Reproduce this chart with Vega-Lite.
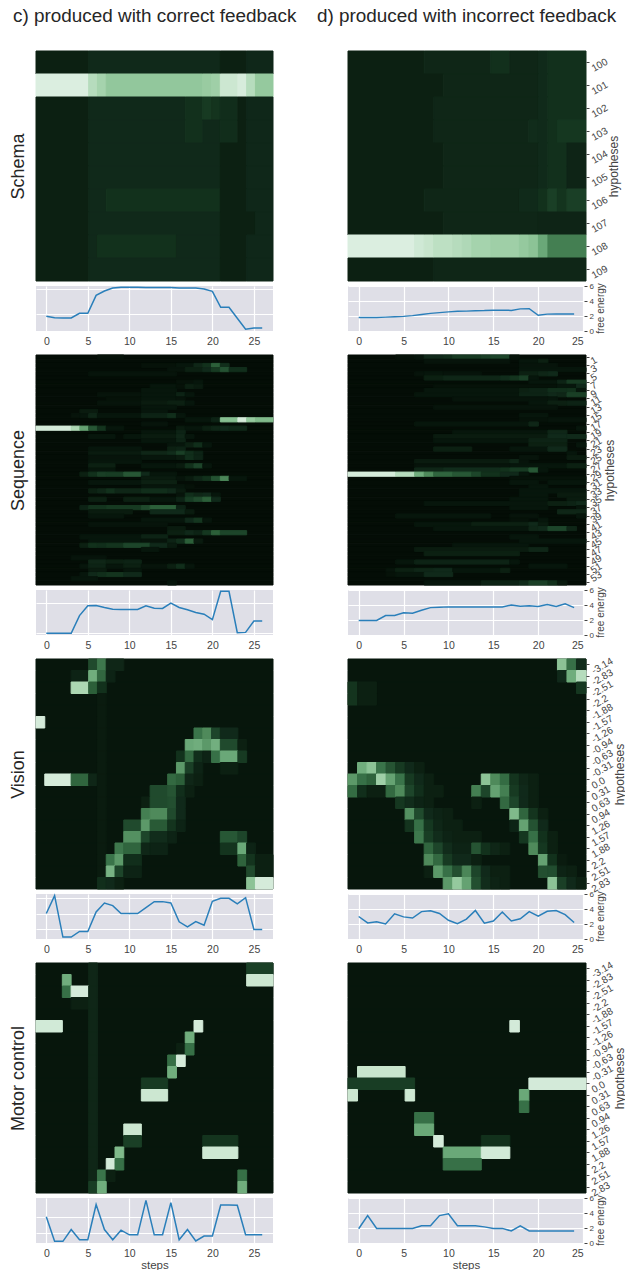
{"$schema":"https://vega.github.io/schema/vega-lite/v6.json","autosize":"pad","bounds":"flush","align":"each","columns":2,"spacing":{"row":5,"column":75},"padding":{"left":9,"top":7,"right":0,"bottom":0},"background":"white",
"config":{"view":{"stroke":null},"font":"Liberation Sans","title":{"font":"Liberation Sans","color":"#262626","fontWeight":"normal"},"axis":{"labelFont":"Liberation Sans","titleFont":"Liberation Sans","labelColor":"#444","titleColor":"#444","tickColor":"#444","titleFontWeight":"normal","domain":false}},
"datasets":{
"bgq":[{"h":0,"v":0},{"h":1,"v":0},{"h":2,"v":0},{"h":3,"v":0},{"h":4,"v":0},{"h":5,"v":0},{"h":6,"v":0},{"h":7,"v":0},{"h":8,"v":0},{"h":9,"v":0},{"h":10,"v":0},{"h":11,"v":0},{"h":12,"v":0},{"h":13,"v":0},{"h":14,"v":0},{"h":15,"v":0},{"h":16,"v":0},{"h":17,"v":0},{"h":18,"v":0},{"h":19,"v":0},{"h":20,"v":0},{"h":21,"v":0},{"h":22,"v":0},{"h":23,"v":0},{"h":24,"v":0},{"h":25,"v":0},{"h":26,"v":0},{"h":27,"v":0},{"h":28,"v":0},{"h":29,"v":0},{"h":30,"v":0},{"h":31,"v":0},{"h":32,"v":0},{"h":33,"v":0},{"h":34,"v":0},{"h":35,"v":0},{"h":36,"v":0},{"h":37,"v":0},{"h":38,"v":0},{"h":39,"v":0},{"h":40,"v":0},{"h":41,"v":0},{"h":42,"v":0},{"h":43,"v":0},{"h":44,"v":0},{"h":45,"v":0},{"h":46,"v":0},{"h":47,"v":0},{"h":48,"v":0},{"h":49,"v":0},{"h":50,"v":0},{"h":51,"v":0},{"h":52,"v":0},{"h":53,"v":0},{"h":54,"v":0}],
"bgv":[{"h":"-3.14","v":0.05},{"h":"-2.83","v":0.05},{"h":"-2.51","v":0.05},{"h":"-2.2","v":0.05},{"h":"-1.88","v":0.05},{"h":"-1.57","v":0.05},{"h":"-1.26","v":0.05},{"h":"-0.94","v":0.05},{"h":"-0.63","v":0.05},{"h":"-0.31","v":0.05},{"h":"0.0","v":0.05},{"h":"0.31","v":0.05},{"h":"0.63","v":0.05},{"h":"0.94","v":0.05},{"h":"1.26","v":0.05},{"h":"1.57","v":0.05},{"h":"1.88","v":0.05},{"h":"2.2","v":0.05},{"h":"2.51","v":0.05},{"h":"2.83","v":0.05}],
"hsc":[{"s":0,"e":6,"h":100,"v":0.07},{"s":6,"e":21,"h":100,"v":0.1},{"s":21,"e":24,"h":100,"v":0.07},{"s":24,"e":27,"h":100,"v":0.095},
{"s":0,"e":6,"h":101,"v":1},{"s":6,"e":7,"h":101,"v":0.85},{"s":7,"e":8,"h":101,"v":0.8},{"s":8,"e":19,"h":101,"v":0.74},{"s":19,"e":20,"h":101,"v":0.76},{"s":20,"e":21,"h":101,"v":0.78},{"s":21,"e":23,"h":101,"v":0.92},{"s":23,"e":24,"h":101,"v":0.98},{"s":24,"e":25,"h":101,"v":0.85},{"s":25,"e":27,"h":101,"v":0.75},
{"s":0,"e":6,"h":102,"v":0.07},{"s":6,"e":17,"h":102,"v":0.1},{"s":17,"e":19,"h":102,"v":0.125},{"s":19,"e":20,"h":102,"v":0.16},{"s":20,"e":21,"h":102,"v":0.14},{"s":21,"e":23,"h":102,"v":0.115},{"s":23,"e":24,"h":102,"v":0.07},{"s":24,"e":27,"h":102,"v":0.095},
{"s":0,"e":6,"h":103,"v":0.07},{"s":6,"e":17,"h":103,"v":0.1},{"s":17,"e":19,"h":103,"v":0.125},{"s":19,"e":21,"h":103,"v":0.1},{"s":21,"e":23,"h":103,"v":0.115},{"s":23,"e":24,"h":103,"v":0.07},{"s":24,"e":27,"h":103,"v":0.095},
{"s":0,"e":6,"h":104,"v":0.07},{"s":6,"e":21,"h":104,"v":0.1},{"s":21,"e":24,"h":104,"v":0.07},{"s":24,"e":27,"h":104,"v":0.095},
{"s":0,"e":6,"h":105,"v":0.07},{"s":6,"e":21,"h":105,"v":0.1},{"s":21,"e":24,"h":105,"v":0.07},{"s":24,"e":27,"h":105,"v":0.095},
{"s":0,"e":6,"h":106,"v":0.07},{"s":6,"e":8,"h":106,"v":0.1},{"s":8,"e":21,"h":106,"v":0.13},{"s":21,"e":24,"h":106,"v":0.07},{"s":24,"e":27,"h":106,"v":0.095},
{"s":0,"e":6,"h":107,"v":0.07},{"s":6,"e":21,"h":107,"v":0.1},{"s":21,"e":25,"h":107,"v":0.07},{"s":25,"e":27,"h":107,"v":0.095},
{"s":0,"e":6,"h":108,"v":0.07},{"s":6,"e":7,"h":108,"v":0.1},{"s":7,"e":16,"h":108,"v":0.13},{"s":16,"e":21,"h":108,"v":0.1},{"s":21,"e":24,"h":108,"v":0.07},{"s":24,"e":27,"h":108,"v":0.095},
{"s":0,"e":6,"h":109,"v":0.07},{"s":6,"e":21,"h":109,"v":0.1},{"s":21,"e":24,"h":109,"v":0.07},{"s":24,"e":27,"h":109,"v":0.095}],
"hsd":[{"s":0,"e":8,"h":100,"v":0.07},{"s":8,"e":15,"h":100,"v":0.09},{"s":15,"e":17,"h":100,"v":0.125},{"s":17,"e":20,"h":100,"v":0.09},{"s":20,"e":21,"h":100,"v":0.105},{"s":21,"e":25,"h":100,"v":0.125},
{"s":0,"e":10,"h":101,"v":0.07},{"s":10,"e":20,"h":101,"v":0.09},{"s":20,"e":21,"h":101,"v":0.105},{"s":21,"e":25,"h":101,"v":0.125},
{"s":0,"e":9,"h":102,"v":0.07},{"s":9,"e":20,"h":102,"v":0.09},{"s":20,"e":21,"h":102,"v":0.105},{"s":21,"e":25,"h":102,"v":0.125},
{"s":0,"e":9,"h":103,"v":0.07},{"s":9,"e":19,"h":103,"v":0.09},{"s":19,"e":20,"h":103,"v":0.11},{"s":20,"e":21,"h":103,"v":0.105},{"s":21,"e":22,"h":103,"v":0.125},{"s":22,"e":25,"h":103,"v":0.15},
{"s":0,"e":10,"h":104,"v":0.07},{"s":10,"e":20,"h":104,"v":0.09},{"s":20,"e":21,"h":104,"v":0.105},{"s":21,"e":23,"h":104,"v":0.125},{"s":23,"e":25,"h":104,"v":0.085},
{"s":0,"e":10,"h":105,"v":0.07},{"s":10,"e":20,"h":105,"v":0.09},{"s":20,"e":21,"h":105,"v":0.105},{"s":21,"e":23,"h":105,"v":0.125},{"s":23,"e":25,"h":105,"v":0.085},
{"s":0,"e":8,"h":106,"v":0.07},{"s":8,"e":18,"h":106,"v":0.09},{"s":18,"e":20,"h":106,"v":0.105},{"s":20,"e":21,"h":106,"v":0.13},{"s":21,"e":22,"h":106,"v":0.18},{"s":22,"e":23,"h":106,"v":0.14},{"s":23,"e":25,"h":106,"v":0.18},
{"s":0,"e":10,"h":107,"v":0.07},{"s":10,"e":20,"h":107,"v":0.09},{"s":20,"e":25,"h":107,"v":0.085},
{"s":0,"e":7,"h":108,"v":1},{"s":7,"e":8,"h":108,"v":0.94},{"s":8,"e":9,"h":108,"v":0.9},{"s":9,"e":11,"h":108,"v":0.87},{"s":11,"e":12,"h":108,"v":0.85},{"s":12,"e":13,"h":108,"v":0.83},{"s":13,"e":15,"h":108,"v":0.8},{"s":15,"e":18,"h":108,"v":0.78},{"s":18,"e":19,"h":108,"v":0.75},{"s":19,"e":20,"h":108,"v":0.72},{"s":20,"e":21,"h":108,"v":0.6},{"s":21,"e":25,"h":108,"v":0.45},
{"s":0,"e":9,"h":109,"v":0.07},{"s":9,"e":25,"h":109,"v":0.09}],
"hqc":[{"s":7,"e":10,"h":0,"v":0.03},
{"s":12,"e":16,"h":2,"v":0.03},{"s":16,"e":18,"h":2,"v":0.05},{"s":18,"e":19,"h":2,"v":0.09},{"s":19,"e":20,"h":2,"v":0.13},{"s":20,"e":21,"h":2,"v":0.3},{"s":21,"e":22,"h":2,"v":0.12},
{"s":15,"e":17,"h":3,"v":0.04},{"s":17,"e":19,"h":3,"v":0.07},{"s":19,"e":20,"h":3,"v":0.1},{"s":20,"e":21,"h":3,"v":0.16},{"s":21,"e":22,"h":3,"v":0.25},{"s":22,"e":24,"h":3,"v":0.12},
{"s":6,"e":16,"h":4,"v":0.04},
{"s":16,"e":18,"h":6,"v":0.03},{"s":18,"e":19,"h":6,"v":0.05},
{"s":13,"e":16,"h":7,"v":0.05},{"s":16,"e":17,"h":7,"v":0.03},{"s":17,"e":18,"h":7,"v":0.07},{"s":18,"e":19,"h":7,"v":0.06},
{"s":12,"e":16,"h":8,"v":0.05},
{"s":7,"e":12,"h":9,"v":0.04},{"s":12,"e":16,"h":9,"v":0.05},{"s":16,"e":17,"h":9,"v":0.08},{"s":17,"e":18,"h":9,"v":0.05},
{"s":8,"e":12,"h":10,"v":0.03},{"s":12,"e":16,"h":10,"v":0.05},{"s":16,"e":17,"h":10,"v":0.04},
{"s":7,"e":12,"h":11,"v":0.04},{"s":12,"e":15,"h":11,"v":0.06},{"s":15,"e":17,"h":11,"v":0.07},{"s":17,"e":18,"h":11,"v":0.05},
{"s":12,"e":16,"h":12,"v":0.05},
{"s":5,"e":7,"h":13,"v":0.06},{"s":12,"e":15,"h":13,"v":0.05},
{"s":4,"e":5,"h":14,"v":0.04},{"s":5,"e":6,"h":14,"v":0.05},{"s":6,"e":7,"h":14,"v":0.09},{"s":7,"e":12,"h":14,"v":0.05},{"s":12,"e":15,"h":14,"v":0.08},{"s":15,"e":16,"h":14,"v":0.12},{"s":16,"e":17,"h":14,"v":0.05},
{"s":17,"e":20,"h":15,"v":0.05},{"s":20,"e":21,"h":15,"v":0.08},{"s":21,"e":23,"h":15,"v":0.7},{"s":23,"e":24,"h":15,"v":0.97},{"s":24,"e":25,"h":15,"v":0.75},{"s":25,"e":27,"h":15,"v":0.68},
{"s":12,"e":15,"h":16,"v":0.04},
{"s":0,"e":4,"h":17,"v":0.97},{"s":4,"e":5,"h":17,"v":0.82},{"s":5,"e":6,"h":17,"v":0.58},{"s":6,"e":7,"h":17,"v":0.27},{"s":7,"e":8,"h":17,"v":0.14},{"s":8,"e":10,"h":17,"v":0.05},{"s":16,"e":17,"h":17,"v":0.06},{"s":17,"e":19,"h":17,"v":0.05},{"s":19,"e":20,"h":17,"v":0.07},{"s":20,"e":21,"h":17,"v":0.09},{"s":21,"e":22,"h":17,"v":0.1},{"s":22,"e":24,"h":17,"v":0.09},
{"s":12,"e":16,"h":18,"v":0.05},{"s":16,"e":17,"h":18,"v":0.08},
{"s":6,"e":9,"h":19,"v":0.05},{"s":10,"e":12,"h":19,"v":0.05},{"s":12,"e":16,"h":19,"v":0.06},{"s":16,"e":17,"h":19,"v":0.09},{"s":17,"e":18,"h":19,"v":0.05},
{"s":12,"e":16,"h":20,"v":0.05},{"s":16,"e":17,"h":20,"v":0.08},
{"s":15,"e":17,"h":21,"v":0.05},{"s":17,"e":18,"h":21,"v":0.07},{"s":18,"e":19,"h":21,"v":0.12},{"s":19,"e":20,"h":21,"v":0.05},
{"s":6,"e":12,"h":22,"v":0.05},{"s":15,"e":16,"h":22,"v":0.07},{"s":16,"e":17,"h":22,"v":0.08},
{"s":6,"e":12,"h":23,"v":0.06},{"s":12,"e":15,"h":23,"v":0.09},{"s":15,"e":16,"h":23,"v":0.11},{"s":16,"e":17,"h":23,"v":0.18},{"s":17,"e":18,"h":23,"v":0.12},{"s":18,"e":19,"h":23,"v":0.08},
{"s":6,"e":12,"h":24,"v":0.04},{"s":12,"e":16,"h":24,"v":0.05},{"s":16,"e":17,"h":24,"v":0.06},{"s":17,"e":18,"h":24,"v":0.12},{"s":18,"e":19,"h":24,"v":0.08},
{"s":6,"e":12,"h":25,"v":0.05},
{"s":6,"e":9,"h":26,"v":0.07},{"s":12,"e":16,"h":26,"v":0.05},{"s":16,"e":17,"h":26,"v":0.06},{"s":17,"e":18,"h":26,"v":0.13},{"s":18,"e":19,"h":26,"v":0.2},{"s":19,"e":20,"h":26,"v":0.05},
{"s":6,"e":9,"h":27,"v":0.05},
{"s":5,"e":6,"h":28,"v":0.07},{"s":6,"e":7,"h":28,"v":0.13},{"s":7,"e":8,"h":28,"v":0.18},{"s":8,"e":10,"h":28,"v":0.17},{"s":10,"e":12,"h":28,"v":0.27},{"s":12,"e":13,"h":28,"v":0.1},{"s":13,"e":16,"h":28,"v":0.05},
{"s":12,"e":16,"h":29,"v":0.06},{"s":16,"e":17,"h":29,"v":0.04},{"s":17,"e":18,"h":29,"v":0.06},{"s":18,"e":19,"h":29,"v":0.09},{"s":19,"e":20,"h":29,"v":0.13},{"s":20,"e":21,"h":29,"v":0.25},{"s":21,"e":22,"h":29,"v":0.48},{"s":22,"e":24,"h":29,"v":0.05},
{"s":6,"e":12,"h":30,"v":0.05},{"s":12,"e":16,"h":30,"v":0.07},
{"s":12,"e":17,"h":31,"v":0.05},{"s":17,"e":18,"h":31,"v":0.03},
{"s":6,"e":7,"h":32,"v":0.07},{"s":7,"e":8,"h":32,"v":0.09},{"s":8,"e":9,"h":32,"v":0.13},{"s":9,"e":12,"h":32,"v":0.09},{"s":12,"e":15,"h":32,"v":0.12},{"s":15,"e":16,"h":32,"v":0.1},{"s":16,"e":17,"h":32,"v":0.06},
{"s":16,"e":17,"h":33,"v":0.04},{"s":17,"e":18,"h":33,"v":0.12},{"s":18,"e":19,"h":33,"v":0.09},{"s":19,"e":20,"h":33,"v":0.1},{"s":20,"e":21,"h":33,"v":0.05},
{"s":6,"e":8,"h":34,"v":0.07},{"s":10,"e":13,"h":34,"v":0.07},{"s":13,"e":16,"h":34,"v":0.05},{"s":16,"e":17,"h":34,"v":0.08},{"s":17,"e":18,"h":34,"v":0.17},{"s":18,"e":19,"h":34,"v":0.22},{"s":19,"e":20,"h":34,"v":0.3},{"s":20,"e":21,"h":34,"v":0.1},
{"s":5,"e":6,"h":36,"v":0.08},{"s":6,"e":8,"h":36,"v":0.14},{"s":8,"e":12,"h":36,"v":0.16},{"s":12,"e":13,"h":36,"v":0.22},{"s":13,"e":16,"h":36,"v":0.3},{"s":16,"e":17,"h":36,"v":0.08},
{"s":6,"e":11,"h":37,"v":0.06},{"s":13,"e":17,"h":37,"v":0.1},{"s":17,"e":18,"h":37,"v":0.06},
{"s":6,"e":10,"h":38,"v":0.05},
{"s":12,"e":17,"h":39,"v":0.05},{"s":17,"e":18,"h":39,"v":0.1},{"s":18,"e":19,"h":39,"v":0.15},{"s":19,"e":20,"h":39,"v":0.05},
{"s":6,"e":15,"h":40,"v":0.04},
{"s":15,"e":17,"h":41,"v":0.06},
{"s":15,"e":17,"h":42,"v":0.07},{"s":17,"e":18,"h":42,"v":0.1},{"s":18,"e":19,"h":42,"v":0.08},{"s":19,"e":20,"h":42,"v":0.15},{"s":20,"e":21,"h":42,"v":0.3},{"s":21,"e":24,"h":42,"v":0.2},
{"s":5,"e":12,"h":43,"v":0.05},{"s":12,"e":15,"h":43,"v":0.08},
{"s":6,"e":12,"h":44,"v":0.05},{"s":12,"e":15,"h":44,"v":0.04},{"s":15,"e":16,"h":44,"v":0.08},{"s":16,"e":17,"h":44,"v":0.12},{"s":17,"e":18,"h":44,"v":0.3},{"s":18,"e":19,"h":44,"v":0.06},
{"s":5,"e":6,"h":45,"v":0.07},{"s":6,"e":7,"h":45,"v":0.13},{"s":7,"e":8,"h":45,"v":0.12},{"s":8,"e":10,"h":45,"v":0.14},{"s":10,"e":13,"h":45,"v":0.2},{"s":13,"e":15,"h":45,"v":0.1},{"s":15,"e":16,"h":45,"v":0.06},
{"s":12,"e":14,"h":46,"v":0.05},
{"s":4,"e":8,"h":48,"v":0.04},
{"s":6,"e":8,"h":49,"v":0.09},{"s":8,"e":10,"h":49,"v":0.07},{"s":10,"e":12,"h":49,"v":0.08},
{"s":5,"e":6,"h":50,"v":0.05},{"s":6,"e":8,"h":50,"v":0.08},{"s":8,"e":10,"h":50,"v":0.05},{"s":10,"e":12,"h":50,"v":0.07},{"s":12,"e":15,"h":50,"v":0.04},{"s":15,"e":16,"h":50,"v":0.07},{"s":16,"e":17,"h":50,"v":0.12},{"s":17,"e":18,"h":50,"v":0.05},
{"s":6,"e":8,"h":51,"v":0.06},{"s":10,"e":12,"h":51,"v":0.05},
{"s":5,"e":6,"h":52,"v":0.05},{"s":6,"e":7,"h":52,"v":0.1},{"s":7,"e":8,"h":52,"v":0.12},{"s":8,"e":10,"h":52,"v":0.14},{"s":10,"e":12,"h":52,"v":0.1},
{"s":4,"e":7,"h":53,"v":0.05},
{"s":15,"e":16,"h":54,"v":0.05}],
"hqd":[{"s":5,"e":7,"h":0,"v":0.03},{"s":7,"e":8,"h":0,"v":0.05},{"s":8,"e":10,"h":0,"v":0.1},{"s":10,"e":11,"h":0,"v":0.12},{"s":11,"e":14,"h":0,"v":0.16},{"s":14,"e":15,"h":0,"v":0.18},{"s":15,"e":17,"h":0,"v":0.2},{"s":17,"e":18,"h":0,"v":0.04},
{"s":8,"e":17,"h":1,"v":0.04},{"s":18,"e":20,"h":1,"v":0.05},{"s":20,"e":21,"h":1,"v":0.07},
{"s":18,"e":22,"h":2,"v":0.04},
{"s":18,"e":25,"h":3,"v":0.05},
{"s":7,"e":8,"h":4,"v":0.04},{"s":8,"e":10,"h":4,"v":0.05},{"s":10,"e":14,"h":4,"v":0.04},{"s":18,"e":20,"h":4,"v":0.07},{"s":20,"e":21,"h":4,"v":0.09},{"s":21,"e":22,"h":4,"v":0.1},
{"s":8,"e":10,"h":5,"v":0.07},{"s":10,"e":16,"h":5,"v":0.09},{"s":16,"e":17,"h":5,"v":0.11},{"s":17,"e":18,"h":5,"v":0.14},{"s":18,"e":19,"h":5,"v":0.18},{"s":19,"e":20,"h":5,"v":0.05},
{"s":19,"e":22,"h":6,"v":0.05},{"s":22,"e":23,"h":6,"v":0.08},{"s":23,"e":25,"h":6,"v":0.16},
{"s":9,"e":22,"h":7,"v":0.03},{"s":22,"e":24,"h":7,"v":0.05},{"s":24,"e":25,"h":7,"v":0.1},
{"s":8,"e":18,"h":8,"v":0.05},{"s":18,"e":19,"h":8,"v":0.07},{"s":19,"e":21,"h":8,"v":0.08},{"s":21,"e":23,"h":8,"v":0.12},{"s":23,"e":24,"h":8,"v":0.13},{"s":24,"e":25,"h":8,"v":0.05},
{"s":7,"e":18,"h":9,"v":0.05},{"s":18,"e":21,"h":9,"v":0.08},{"s":21,"e":22,"h":9,"v":0.1},{"s":22,"e":23,"h":9,"v":0.09},{"s":23,"e":25,"h":9,"v":0.18},
{"s":11,"e":21,"h":10,"v":0.04},{"s":21,"e":22,"h":10,"v":0.05},
{"s":19,"e":21,"h":11,"v":0.05},{"s":21,"e":23,"h":11,"v":0.07},{"s":23,"e":25,"h":11,"v":0.08},
{"s":9,"e":22,"h":12,"v":0.04},
{"s":18,"e":21,"h":14,"v":0.05},
{"s":18,"e":21,"h":15,"v":0.03},{"s":21,"e":25,"h":15,"v":0.04},
{"s":7,"e":19,"h":16,"v":0.05},{"s":19,"e":20,"h":16,"v":0.09},
{"s":24,"e":25,"h":17,"v":0.05},
{"s":11,"e":21,"h":18,"v":0.05},{"s":21,"e":23,"h":18,"v":0.09},
{"s":9,"e":21,"h":19,"v":0.06},{"s":21,"e":23,"h":19,"v":0.1},{"s":23,"e":25,"h":19,"v":0.1},
{"s":9,"e":19,"h":20,"v":0.05},{"s":19,"e":23,"h":20,"v":0.08},
{"s":19,"e":23,"h":21,"v":0.07},{"s":24,"e":25,"h":21,"v":0.05},
{"s":9,"e":13,"h":22,"v":0.07},{"s":17,"e":21,"h":22,"v":0.05},{"s":21,"e":23,"h":22,"v":0.1},
{"s":23,"e":24,"h":23,"v":0.05},
{"s":18,"e":20,"h":24,"v":0.04},{"s":23,"e":25,"h":24,"v":0.06},
{"s":7,"e":17,"h":25,"v":0.06},{"s":17,"e":18,"h":25,"v":0.09},{"s":18,"e":19,"h":25,"v":0.04},
{"s":7,"e":17,"h":26,"v":0.04},{"s":17,"e":23,"h":26,"v":0.05},{"s":23,"e":25,"h":26,"v":0.07},
{"s":7,"e":10,"h":27,"v":0.09},{"s":10,"e":16,"h":27,"v":0.11},{"s":16,"e":17,"h":27,"v":0.13},{"s":17,"e":19,"h":27,"v":0.16},{"s":19,"e":20,"h":27,"v":0.27},{"s":20,"e":21,"h":27,"v":0.05},
{"s":0,"e":5,"h":28,"v":0.97},{"s":5,"e":7,"h":28,"v":0.85},{"s":7,"e":8,"h":28,"v":0.62},{"s":8,"e":9,"h":28,"v":0.5},{"s":9,"e":11,"h":28,"v":0.33},{"s":11,"e":13,"h":28,"v":0.27},{"s":13,"e":14,"h":28,"v":0.2},{"s":14,"e":16,"h":28,"v":0.13},{"s":16,"e":18,"h":28,"v":0.1},{"s":18,"e":19,"h":28,"v":0.05},
{"s":17,"e":25,"h":29,"v":0.03},
{"s":17,"e":20,"h":30,"v":0.05},{"s":21,"e":25,"h":30,"v":0.05},
{"s":19,"e":21,"h":31,"v":0.05},
{"s":18,"e":25,"h":32,"v":0.05},
{"s":18,"e":21,"h":33,"v":0.05},{"s":22,"e":25,"h":33,"v":0.06},
{"s":17,"e":21,"h":34,"v":0.05},{"s":23,"e":25,"h":34,"v":0.06},
{"s":8,"e":21,"h":35,"v":0.05},{"s":21,"e":23,"h":35,"v":0.07},{"s":23,"e":24,"h":35,"v":0.08},{"s":24,"e":25,"h":35,"v":0.1},
{"s":17,"e":21,"h":36,"v":0.05},{"s":24,"e":25,"h":36,"v":0.05},
{"s":22,"e":25,"h":37,"v":0.09},
{"s":5,"e":15,"h":38,"v":0.05},{"s":17,"e":20,"h":38,"v":0.04},{"s":24,"e":25,"h":38,"v":0.05},
{"s":17,"e":19,"h":39,"v":0.03},{"s":20,"e":21,"h":39,"v":0.05},
{"s":7,"e":13,"h":40,"v":0.05},{"s":13,"e":19,"h":40,"v":0.07},{"s":19,"e":20,"h":40,"v":0.1},{"s":20,"e":21,"h":40,"v":0.06},
{"s":9,"e":19,"h":41,"v":0.05},{"s":19,"e":20,"h":41,"v":0.09},{"s":20,"e":21,"h":41,"v":0.1},{"s":21,"e":23,"h":41,"v":0.2},{"s":23,"e":24,"h":41,"v":0.09},
{"s":17,"e":20,"h":43,"v":0.05},
{"s":18,"e":25,"h":44,"v":0.05},
{"s":11,"e":19,"h":45,"v":0.05},
{"s":7,"e":19,"h":46,"v":0.06},{"s":19,"e":21,"h":46,"v":0.09},
{"s":8,"e":18,"h":47,"v":0.07},
{"s":5,"e":7,"h":49,"v":0.05},{"s":7,"e":17,"h":49,"v":0.08},{"s":17,"e":18,"h":49,"v":0.05},
{"s":19,"e":23,"h":50,"v":0.05},
{"s":4,"e":5,"h":51,"v":0.04},{"s":5,"e":7,"h":51,"v":0.07},{"s":7,"e":9,"h":51,"v":0.09},{"s":9,"e":11,"h":51,"v":0.1},{"s":11,"e":16,"h":51,"v":0.05},{"s":16,"e":17,"h":51,"v":0.07},
{"s":4,"e":5,"h":52,"v":0.03},{"s":5,"e":8,"h":52,"v":0.05},{"s":8,"e":11,"h":52,"v":0.1},
{"s":8,"e":14,"h":54,"v":0.05},{"s":14,"e":18,"h":54,"v":0.08},{"s":18,"e":19,"h":54,"v":0.11},{"s":19,"e":21,"h":54,"v":0.18},{"s":21,"e":22,"h":54,"v":0.13},{"s":22,"e":23,"h":54,"v":0.06}],
"hvc":[{"s":6,"e":7,"h":"-3.14","v":0.22},{"s":7,"e":8,"h":"-3.14","v":0.42},{"s":8,"e":10,"h":"-3.14","v":0.09},
{"s":4,"e":6,"h":"-2.83","v":0.08},{"s":6,"e":7,"h":"-2.83","v":0.62},{"s":7,"e":8,"h":"-2.83","v":0.34},{"s":8,"e":9,"h":"-2.83","v":0.08},
{"s":4,"e":6,"h":"-2.51","v":0.82},{"s":6,"e":7,"h":"-2.51","v":0.3},{"s":7,"e":8,"h":"-2.51","v":0.13},
{"s":7,"e":8,"h":"-2.2","v":0.06},{"s":7,"e":8,"h":"-1.88","v":0.06},{"s":7,"e":8,"h":"-1.57","v":0.06},
{"s":0,"e":1,"h":"-1.57","v":0.97},
{"s":7,"e":8,"h":"-1.26","v":0.06},{"s":18,"e":19,"h":"-1.26","v":0.4},{"s":19,"e":20,"h":"-1.26","v":0.5},{"s":20,"e":21,"h":"-1.26","v":0.2},{"s":21,"e":23,"h":"-1.26","v":0.1},
{"s":7,"e":8,"h":"-0.94","v":0.06},{"s":17,"e":18,"h":"-0.94","v":0.6},{"s":18,"e":19,"h":"-0.94","v":0.62},{"s":19,"e":20,"h":"-0.94","v":0.55},{"s":20,"e":21,"h":"-0.94","v":0.63},{"s":21,"e":23,"h":"-0.94","v":0.22},{"s":23,"e":24,"h":"-0.94","v":0.07},
{"s":7,"e":8,"h":"-0.63","v":0.06},{"s":16,"e":17,"h":"-0.63","v":0.13},{"s":17,"e":18,"h":"-0.63","v":0.35},{"s":18,"e":19,"h":"-0.63","v":0.12},{"s":19,"e":20,"h":"-0.63","v":0.08},{"s":20,"e":21,"h":"-0.63","v":0.38},{"s":21,"e":23,"h":"-0.63","v":0.6},{"s":23,"e":24,"h":"-0.63","v":0.16},
{"s":7,"e":8,"h":"-0.31","v":0.06},{"s":16,"e":17,"h":"-0.31","v":0.55},{"s":17,"e":18,"h":"-0.31","v":0.18},{"s":18,"e":19,"h":"-0.31","v":0.08},{"s":21,"e":23,"h":"-0.31","v":0.07},
{"s":1,"e":4,"h":"0.0","v":0.97},{"s":4,"e":6,"h":"0.0","v":0.33},{"s":6,"e":7,"h":"0.0","v":0.09},{"s":7,"e":8,"h":"0.0","v":0.06},{"s":15,"e":16,"h":"0.0","v":0.35},{"s":16,"e":17,"h":"0.0","v":0.3},{"s":17,"e":18,"h":"0.0","v":0.09},{"s":18,"e":19,"h":"0.0","v":0.07},
{"s":7,"e":8,"h":"0.31","v":0.06},{"s":13,"e":15,"h":"0.31","v":0.22},{"s":15,"e":16,"h":"0.31","v":0.26},{"s":16,"e":17,"h":"0.31","v":0.12},{"s":17,"e":18,"h":"0.31","v":0.07},
{"s":7,"e":8,"h":"0.63","v":0.06},{"s":12,"e":13,"h":"0.63","v":0.07},{"s":13,"e":15,"h":"0.63","v":0.22},{"s":15,"e":16,"h":"0.63","v":0.24},{"s":16,"e":17,"h":"0.63","v":0.1},
{"s":7,"e":8,"h":"0.94","v":0.06},{"s":12,"e":13,"h":"0.94","v":0.45},{"s":13,"e":15,"h":"0.94","v":0.5},{"s":15,"e":16,"h":"0.94","v":0.22},{"s":16,"e":17,"h":"0.94","v":0.1},
{"s":7,"e":8,"h":"1.26","v":0.06},{"s":10,"e":12,"h":"1.26","v":0.22},{"s":12,"e":13,"h":"1.26","v":0.55},{"s":13,"e":15,"h":"1.26","v":0.28},{"s":15,"e":16,"h":"1.26","v":0.14},{"s":16,"e":17,"h":"1.26","v":0.08},
{"s":7,"e":8,"h":"1.57","v":0.06},{"s":10,"e":12,"h":"1.57","v":0.52},{"s":12,"e":13,"h":"1.57","v":0.2},{"s":13,"e":15,"h":"1.57","v":0.11},{"s":15,"e":16,"h":"1.57","v":0.08},{"s":21,"e":23,"h":"1.57","v":0.27},{"s":23,"e":24,"h":"1.57","v":0.2},
{"s":7,"e":8,"h":"1.88","v":0.06},{"s":9,"e":10,"h":"1.88","v":0.42},{"s":10,"e":12,"h":"1.88","v":0.33},{"s":12,"e":13,"h":"1.88","v":0.09},{"s":13,"e":15,"h":"1.88","v":0.08},{"s":21,"e":23,"h":"1.88","v":0.14},{"s":23,"e":24,"h":"1.88","v":0.6},{"s":24,"e":25,"h":"1.88","v":0.08},
{"s":7,"e":8,"h":"2.2","v":0.06},{"s":8,"e":9,"h":"2.2","v":0.4},{"s":9,"e":10,"h":"2.2","v":0.55},{"s":10,"e":12,"h":"2.2","v":0.12},{"s":23,"e":24,"h":"2.2","v":0.32},{"s":24,"e":25,"h":"2.2","v":0.14},{"s":25,"e":27,"h":"2.2","v":0.07},
{"s":7,"e":8,"h":"2.51","v":0.06},{"s":8,"e":9,"h":"2.51","v":0.65},{"s":9,"e":10,"h":"2.51","v":0.2},{"s":10,"e":12,"h":"2.51","v":0.08},{"s":24,"e":25,"h":"2.51","v":0.22},{"s":25,"e":27,"h":"2.51","v":0.07},
{"s":7,"e":8,"h":"2.83","v":0.12},{"s":8,"e":9,"h":"2.83","v":0.1},{"s":9,"e":10,"h":"2.83","v":0.07},{"s":24,"e":25,"h":"2.83","v":0.72},{"s":25,"e":27,"h":"2.83","v":0.97}],
"hvd":[{"s":22,"e":23,"h":"-3.14","v":0.72},{"s":23,"e":24,"h":"-3.14","v":0.38},{"s":24,"e":25,"h":"-3.14","v":0.11},
{"s":22,"e":23,"h":"-2.83","v":0.1},{"s":23,"e":24,"h":"-2.83","v":0.62},{"s":24,"e":25,"h":"-2.83","v":0.85},
{"s":0,"e":1,"h":"-2.51","v":0.14},{"s":1,"e":3,"h":"-2.51","v":0.07},{"s":24,"e":25,"h":"-2.51","v":0.15},
{"s":0,"e":1,"h":"-2.2","v":0.14},{"s":1,"e":3,"h":"-2.2","v":0.07},
{"s":1,"e":2,"h":"-0.31","v":0.62},{"s":2,"e":3,"h":"-0.31","v":0.72},{"s":3,"e":4,"h":"-0.31","v":0.4},{"s":4,"e":5,"h":"-0.31","v":0.26},{"s":5,"e":6,"h":"-0.31","v":0.16},{"s":6,"e":7,"h":"-0.31","v":0.1},{"s":7,"e":8,"h":"-0.31","v":0.07},
{"s":0,"e":1,"h":"0.0","v":0.55},{"s":1,"e":2,"h":"0.0","v":0.38},{"s":2,"e":3,"h":"0.0","v":0.32},{"s":3,"e":4,"h":"0.0","v":0.78},{"s":4,"e":5,"h":"0.0","v":0.58},{"s":5,"e":6,"h":"0.0","v":0.4},{"s":6,"e":7,"h":"0.0","v":0.16},{"s":7,"e":8,"h":"0.0","v":0.1},{"s":8,"e":9,"h":"0.0","v":0.07},{"s":14,"e":15,"h":"0.0","v":0.72},{"s":15,"e":16,"h":"0.0","v":0.5},{"s":16,"e":17,"h":"0.0","v":0.36},{"s":17,"e":18,"h":"0.0","v":0.14},{"s":18,"e":19,"h":"0.0","v":0.09},{"s":19,"e":20,"h":"0.0","v":0.07},
{"s":0,"e":1,"h":"0.31","v":0.36},{"s":1,"e":2,"h":"0.31","v":0.12},{"s":2,"e":4,"h":"0.31","v":0.07},{"s":4,"e":5,"h":"0.31","v":0.35},{"s":5,"e":6,"h":"0.31","v":0.5},{"s":6,"e":7,"h":"0.31","v":0.2},{"s":7,"e":8,"h":"0.31","v":0.12},{"s":8,"e":10,"h":"0.31","v":0.07},{"s":13,"e":14,"h":"0.31","v":0.45},{"s":14,"e":15,"h":"0.31","v":0.2},{"s":15,"e":16,"h":"0.31","v":0.58},{"s":16,"e":17,"h":"0.31","v":0.45},{"s":17,"e":18,"h":"0.31","v":0.16},{"s":18,"e":19,"h":"0.31","v":0.1},{"s":19,"e":20,"h":"0.31","v":0.07},
{"s":5,"e":6,"h":"0.63","v":0.15},{"s":6,"e":7,"h":"0.63","v":0.11},{"s":7,"e":8,"h":"0.63","v":0.08},{"s":8,"e":9,"h":"0.63","v":0.07},{"s":13,"e":14,"h":"0.63","v":0.07},{"s":16,"e":17,"h":"0.63","v":0.35},{"s":17,"e":18,"h":"0.63","v":0.2},{"s":18,"e":19,"h":"0.63","v":0.1},{"s":19,"e":20,"h":"0.63","v":0.07},
{"s":6,"e":7,"h":"0.94","v":0.52},{"s":7,"e":8,"h":"0.94","v":0.22},{"s":8,"e":9,"h":"0.94","v":0.1},{"s":9,"e":10,"h":"0.94","v":0.08},{"s":10,"e":11,"h":"0.94","v":0.07},{"s":17,"e":18,"h":"0.94","v":0.68},{"s":18,"e":19,"h":"0.94","v":0.33},{"s":19,"e":20,"h":"0.94","v":0.14},{"s":20,"e":21,"h":"0.94","v":0.07},
{"s":6,"e":7,"h":"1.26","v":0.14},{"s":7,"e":8,"h":"1.26","v":0.38},{"s":8,"e":9,"h":"1.26","v":0.15},{"s":9,"e":10,"h":"1.26","v":0.09},{"s":10,"e":12,"h":"1.26","v":0.07},{"s":17,"e":18,"h":"1.26","v":0.08},{"s":18,"e":19,"h":"1.26","v":0.58},{"s":19,"e":20,"h":"1.26","v":0.25},{"s":20,"e":21,"h":"1.26","v":0.1},
{"s":7,"e":8,"h":"1.57","v":0.42},{"s":8,"e":9,"h":"1.57","v":0.17},{"s":9,"e":10,"h":"1.57","v":0.11},{"s":10,"e":11,"h":"1.57","v":0.08},{"s":11,"e":14,"h":"1.57","v":0.07},{"s":18,"e":19,"h":"1.57","v":0.15},{"s":19,"e":20,"h":"1.57","v":0.38},{"s":20,"e":21,"h":"1.57","v":0.13},{"s":21,"e":22,"h":"1.57","v":0.07},
{"s":8,"e":9,"h":"1.88","v":0.33},{"s":9,"e":10,"h":"1.88","v":0.2},{"s":10,"e":11,"h":"1.88","v":0.11},{"s":11,"e":13,"h":"1.88","v":0.08},{"s":13,"e":14,"h":"1.88","v":0.26},{"s":14,"e":15,"h":"1.88","v":0.13},{"s":15,"e":16,"h":"1.88","v":0.09},{"s":16,"e":17,"h":"1.88","v":0.07},{"s":19,"e":20,"h":"1.88","v":0.5},{"s":20,"e":21,"h":"1.88","v":0.15},{"s":21,"e":22,"h":"1.88","v":0.07},
{"s":8,"e":9,"h":"2.2","v":0.5},{"s":9,"e":10,"h":"2.2","v":0.35},{"s":10,"e":11,"h":"2.2","v":0.16},{"s":11,"e":13,"h":"2.2","v":0.1},{"s":13,"e":14,"h":"2.2","v":0.07},{"s":20,"e":21,"h":"2.2","v":0.58},{"s":21,"e":22,"h":"2.2","v":0.13},{"s":22,"e":23,"h":"2.2","v":0.06},
{"s":8,"e":9,"h":"2.51","v":0.07},{"s":9,"e":10,"h":"2.51","v":0.55},{"s":10,"e":11,"h":"2.51","v":0.38},{"s":11,"e":12,"h":"2.51","v":0.24},{"s":12,"e":13,"h":"2.51","v":0.48},{"s":13,"e":14,"h":"2.51","v":0.2},{"s":14,"e":15,"h":"2.51","v":0.1},{"s":15,"e":17,"h":"2.51","v":0.07},{"s":20,"e":21,"h":"2.51","v":0.24},{"s":21,"e":22,"h":"2.51","v":0.23},{"s":22,"e":23,"h":"2.51","v":0.08},{"s":23,"e":24,"h":"2.51","v":0.07},
{"s":10,"e":11,"h":"2.83","v":0.55},{"s":11,"e":12,"h":"2.83","v":0.75},{"s":12,"e":13,"h":"2.83","v":0.58},{"s":13,"e":14,"h":"2.83","v":0.24},{"s":14,"e":15,"h":"2.83","v":0.11},{"s":15,"e":16,"h":"2.83","v":0.08},{"s":16,"e":17,"h":"2.83","v":0.07},{"s":21,"e":22,"h":"2.83","v":0.72},{"s":22,"e":23,"h":"2.83","v":0.18},{"s":23,"e":24,"h":"2.83","v":0.1},{"s":24,"e":25,"h":"2.83","v":0.07}],
"hmc":[{"s":6,"e":7,"h":"-3.14","v":0.09},{"s":24,"e":27,"h":"-3.14","v":0.18},
{"s":3,"e":4,"h":"-2.83","v":0.62},{"s":6,"e":7,"h":"-2.83","v":0.09},{"s":24,"e":27,"h":"-2.83","v":0.92},
{"s":3,"e":4,"h":"-2.51","v":0.38},{"s":4,"e":6,"h":"-2.51","v":0.97},{"s":6,"e":7,"h":"-2.51","v":0.09},
{"s":4,"e":6,"h":"-2.2","v":0.07},{"s":6,"e":7,"h":"-2.2","v":0.09},{"s":6,"e":7,"h":"-1.88","v":0.09},
{"s":0,"e":3,"h":"-1.57","v":0.95},{"s":6,"e":7,"h":"-1.57","v":0.09},{"s":18,"e":19,"h":"-1.57","v":0.97},
{"s":6,"e":7,"h":"-1.26","v":0.09},{"s":17,"e":18,"h":"-1.26","v":0.62},
{"s":6,"e":7,"h":"-0.94","v":0.09},{"s":16,"e":17,"h":"-0.94","v":0.07},{"s":17,"e":18,"h":"-0.94","v":0.38},
{"s":6,"e":7,"h":"-0.63","v":0.09},{"s":15,"e":16,"h":"-0.63","v":0.37},{"s":16,"e":17,"h":"-0.63","v":0.97},
{"s":6,"e":7,"h":"-0.31","v":0.09},{"s":15,"e":16,"h":"-0.31","v":0.62},
{"s":6,"e":7,"h":"0.0","v":0.09},{"s":12,"e":15,"h":"0.0","v":0.16},
{"s":6,"e":7,"h":"0.31","v":0.09},{"s":12,"e":15,"h":"0.31","v":0.92},
{"s":6,"e":7,"h":"0.63","v":0.09},{"s":6,"e":7,"h":"0.94","v":0.09},
{"s":6,"e":7,"h":"1.26","v":0.09},{"s":10,"e":12,"h":"1.26","v":0.92},
{"s":6,"e":7,"h":"1.57","v":0.09},{"s":10,"e":12,"h":"1.57","v":0.18},{"s":19,"e":23,"h":"1.57","v":0.14},
{"s":6,"e":7,"h":"1.88","v":0.09},{"s":9,"e":10,"h":"1.88","v":0.68},{"s":19,"e":23,"h":"1.88","v":0.93},
{"s":6,"e":7,"h":"2.2","v":0.09},{"s":8,"e":9,"h":"2.2","v":0.96},{"s":9,"e":10,"h":"2.2","v":0.38},
{"s":6,"e":7,"h":"2.51","v":0.09},{"s":7,"e":8,"h":"2.51","v":0.4},{"s":8,"e":9,"h":"2.51","v":0.07},{"s":23,"e":24,"h":"2.51","v":0.38},
{"s":6,"e":7,"h":"2.83","v":0.17},{"s":7,"e":8,"h":"2.83","v":0.62},{"s":23,"e":24,"h":"2.83","v":0.62}],
"hmd":[{"s":17,"e":18,"h":"-1.57","v":0.96},{"s":1,"e":6,"h":"-0.31","v":0.9},{"s":0,"e":7,"h":"0.0","v":0.17},{"s":19,"e":25,"h":"0.0","v":0.96},{"s":0,"e":1,"h":"0.31","v":0.92},{"s":6,"e":7,"h":"0.31","v":0.93},{"s":18,"e":19,"h":"0.31","v":0.6},{"s":18,"e":19,"h":"0.63","v":0.38},{"s":7,"e":9,"h":"0.94","v":0.38},{"s":7,"e":9,"h":"1.26","v":0.6},{"s":9,"e":10,"h":"1.57","v":0.97},{"s":14,"e":17,"h":"1.57","v":0.13},{"s":10,"e":14,"h":"1.88","v":0.6},{"s":14,"e":17,"h":"1.88","v":0.95},{"s":10,"e":14,"h":"2.2","v":0.38}],
"lsc":[{"t":0,"f":1.81},{"t":1,"f":1.7},{"t":2,"f":1.68},{"t":3,"f":1.68},{"t":4,"f":2.05},{"t":5,"f":2.05},{"t":6,"f":3.51},{"t":7,"f":3.86},{"t":8,"f":4.11},{"t":9,"f":4.16},{"t":10,"f":4.16},{"t":11,"f":4.16},{"t":12,"f":4.14},{"t":13,"f":4.14},{"t":14,"f":4.14},{"t":15,"f":4.14},{"t":16,"f":4.11},{"t":17,"f":4.11},{"t":18,"f":4.11},{"t":19,"f":4.03},{"t":20,"f":3.84},{"t":21,"f":2.54},{"t":22,"f":2.54},{"t":23,"f":1.65},{"t":24,"f":0.76},{"t":25,"f":0.86},{"t":26,"f":0.86}],
"lsd":[{"t":0,"f":1.8},{"t":1,"f":1.8},{"t":2,"f":1.8},{"t":3,"f":1.85},{"t":4,"f":1.9},{"t":5,"f":1.95},{"t":6,"f":2.05},{"t":7,"f":2.2},{"t":8,"f":2.35},{"t":9,"f":2.45},{"t":10,"f":2.55},{"t":11,"f":2.62},{"t":12,"f":2.65},{"t":13,"f":2.7},{"t":14,"f":2.72},{"t":15,"f":2.78},{"t":16,"f":2.78},{"t":17,"f":2.75},{"t":18,"f":2.95},{"t":19,"f":2.98},{"t":20,"f":2.1},{"t":21,"f":2.25},{"t":22,"f":2.28},{"t":23,"f":2.28},{"t":24,"f":2.28}],
"lqc":[{"t":0,"f":0},{"t":1,"f":0},{"t":2,"f":0},{"t":3,"f":0},{"t":4,"f":2.38},{"t":5,"f":3.69},{"t":6,"f":3.73},{"t":7,"f":3.46},{"t":8,"f":3.24},{"t":9,"f":3.19},{"t":10,"f":3.19},{"t":11,"f":3.2},{"t":12,"f":3.69},{"t":13,"f":3.37},{"t":14,"f":3.33},{"t":15,"f":4.04},{"t":16,"f":3.46},{"t":17,"f":3.15},{"t":18,"f":2.79},{"t":19,"f":2.56},{"t":20,"f":1.84},{"t":21,"f":5.62},{"t":22,"f":5.62},{"t":23,"f":0.09},{"t":24,"f":0.13},{"t":25,"f":1.66},{"t":26,"f":1.66}],
"lqd":[{"t":0,"f":1.95},{"t":1,"f":1.95},{"t":2,"f":1.95},{"t":3,"f":2.6},{"t":4,"f":2.6},{"t":5,"f":2.95},{"t":6,"f":2.9},{"t":7,"f":3.3},{"t":8,"f":3.65},{"t":9,"f":3.7},{"t":10,"f":3.75},{"t":11,"f":3.75},{"t":12,"f":3.75},{"t":13,"f":3.75},{"t":14,"f":3.75},{"t":15,"f":3.75},{"t":16,"f":3.75},{"t":17,"f":4},{"t":18,"f":3.85},{"t":19,"f":3.9},{"t":20,"f":3.8},{"t":21,"f":4.05},{"t":22,"f":3.8},{"t":23,"f":4.15},{"t":24,"f":3.65}],
"lvc":[{"t":0,"f":4},{"t":1,"f":6.25},{"t":2,"f":1.04},{"t":3,"f":1.04},{"t":4,"f":1.75},{"t":5,"f":1.75},{"t":6,"f":4.21},{"t":7,"f":5.33},{"t":8,"f":5},{"t":9,"f":4},{"t":10,"f":4},{"t":11,"f":4},{"t":12,"f":4.75},{"t":13,"f":5.5},{"t":14,"f":5.5},{"t":15,"f":5.33},{"t":16,"f":2.96},{"t":17,"f":2.33},{"t":18,"f":3},{"t":19,"f":2.54},{"t":20,"f":5.54},{"t":21,"f":5.92},{"t":22,"f":5.92},{"t":23,"f":5.21},{"t":24,"f":6},{"t":25,"f":2},{"t":26,"f":2}],
"lvd":[{"t":0,"f":3},{"t":1,"f":2.15},{"t":2,"f":2.3},{"t":3,"f":2},{"t":4,"f":3.35},{"t":5,"f":2.95},{"t":6,"f":2.8},{"t":7,"f":3.65},{"t":8,"f":3.75},{"t":9,"f":3.4},{"t":10,"f":2.5},{"t":11,"f":2.05},{"t":12,"f":2.65},{"t":13,"f":3.8},{"t":14,"f":2.1},{"t":15,"f":2.4},{"t":16,"f":3.6},{"t":17,"f":2.4},{"t":18,"f":2.7},{"t":19,"f":3.65},{"t":20,"f":3.05},{"t":21,"f":3.7},{"t":22,"f":3.8},{"t":23,"f":3.25},{"t":24,"f":2.2}],
"lmc":[{"t":0,"f":4},{"t":1,"f":1.06},{"t":2,"f":1.06},{"t":3,"f":2.47},{"t":4,"f":1.25},{"t":5,"f":1.25},{"t":6,"f":5.45},{"t":7,"f":2.47},{"t":8,"f":1.25},{"t":9,"f":2.39},{"t":10,"f":1.84},{"t":11,"f":1.84},{"t":12,"f":5.96},{"t":13,"f":1.84},{"t":14,"f":1.84},{"t":15,"f":5.69},{"t":16,"f":1.25},{"t":17,"f":2.47},{"t":18,"f":1.1},{"t":19,"f":1.69},{"t":20,"f":1.69},{"t":21,"f":5.41},{"t":22,"f":5.41},{"t":23,"f":5.37},{"t":24,"f":1.84},{"t":25,"f":1.84},{"t":26,"f":1.84}],
"lmd":[{"t":0,"f":1.9},{"t":1,"f":3.65},{"t":2,"f":1.95},{"t":3,"f":1.95},{"t":4,"f":1.95},{"t":5,"f":1.95},{"t":6,"f":1.95},{"t":7,"f":2.3},{"t":8,"f":2.3},{"t":9,"f":3.65},{"t":10,"f":3.9},{"t":11,"f":2.3},{"t":12,"f":2.3},{"t":13,"f":2.3},{"t":14,"f":2.15},{"t":15,"f":1.95},{"t":16,"f":1.95},{"t":17,"f":1.6},{"t":18,"f":2.3},{"t":19,"f":1.6},{"t":20,"f":1.6},{"t":21,"f":1.6},{"t":22,"f":1.6},{"t":23,"f":1.6},{"t":24,"f":1.6}]
},
"concat":[
{"title":{"text":"c) produced with correct feedback","fontSize":18.9,"anchor":"start","frame":"group","dx":-23,"offset":6},"data":{"name":"hsc"},"width":237,"height":249,"mark":{"type":"rect","strokeWidth":1},"encoding":{"x":{"field":"s","type":"quantitative","scale":{"domain":[0,27],"nice":false,"zero":false},"axis":null},"x2":{"field":"e"},"y":{"field":"h","type":"ordinal","scale":{"type":"band","padding":0,"range":[19,249],"domain":[100,101,102,103,104,105,106,107,108,109]},"axis":{"labels":false,"ticks":false,"title":"Schema","titleFontSize":18,"titleColor":"#262626","titlePadding":9,"titleY":134}},"color":{"field":"v","type":"quantitative","legend":null,"scale":{"domain":[0,0.03,0.05,0.07,0.1,0.13,0.16,0.2,0.3,0.4,0.5,0.6,0.7,0.8,0.9,1],"range":["#040d06","#061209","#07160c","#0c2012","#10291a","#12311c","#173a22","#1d452a","#2c5f39","#3a744a","#4f8a5b","#6aa878","#86bf90","#a5d3ad","#c8e5cd","#dbeee0"]}},"stroke":{"field":"v","type":"quantitative","legend":null,"scale":{"domain":[0,0.03,0.05,0.07,0.1,0.13,0.16,0.2,0.3,0.4,0.5,0.6,0.7,0.8,0.9,1],"range":["#040d06","#061209","#07160c","#0c2012","#10291a","#12311c","#173a22","#1d452a","#2c5f39","#3a744a","#4f8a5b","#6aa878","#86bf90","#a5d3ad","#c8e5cd","#dbeee0"]}}}},
{"title":{"text":"d) produced with incorrect feedback","fontSize":18.9,"anchor":"start","frame":"group","dx":-31,"offset":6},"data":{"name":"hsd"},"width":238,"height":249,"mark":{"type":"rect","strokeWidth":1},"encoding":{"x":{"field":"s","type":"quantitative","scale":{"domain":[0,25],"nice":false,"zero":false},"axis":null},"x2":{"field":"e"},"y":{"field":"h","type":"ordinal","scale":{"type":"band","padding":0,"range":[19,249],"domain":[100,101,102,103,104,105,106,107,108,109]},"axis":{"orient":"right","title":"hypotheses","titleFontSize":12,"titleAngle":270,"titleX":34,"titleY":134,"labelAngle":-30,"labelAlign":"left","labelBaseline":"middle","labelOffset":7,"labelFontSize":10,"tickSize":3,"labelPadding":3}},"color":{"field":"v","type":"quantitative","legend":null,"scale":{"domain":[0,0.03,0.05,0.07,0.1,0.13,0.16,0.2,0.3,0.4,0.5,0.6,0.7,0.8,0.9,1],"range":["#040d06","#061209","#07160c","#0c2012","#10291a","#12311c","#173a22","#1d452a","#2c5f39","#3a744a","#4f8a5b","#6aa878","#86bf90","#a5d3ad","#c8e5cd","#dbeee0"]}},"stroke":{"field":"v","type":"quantitative","legend":null,"scale":{"domain":[0,0.03,0.05,0.07,0.1,0.13,0.16,0.2,0.3,0.4,0.5,0.6,0.7,0.8,0.9,1],"range":["#040d06","#061209","#07160c","#0c2012","#10291a","#12311c","#173a22","#1d452a","#2c5f39","#3a744a","#4f8a5b","#6aa878","#86bf90","#a5d3ad","#c8e5cd","#dbeee0"]}}}},
{"data":{"name":"lsc"},"width":237,"height":45,"view":{"fill":"#dfdfe7"},"mark":{"type":"line","color":"#2a7fba","strokeWidth":1.5},"encoding":{"x":{"field":"t","type":"quantitative","scale":{"domain":[-1.24,27.3],"nice":false,"zero":false},"axis":{"values":[0,5,10,15,20,25],"grid":true,"gridColor":"#fff","gridWidth":1.2,"ticks":false,"title":null,"labelFontSize":10.5,"labelPadding":5,"labelAngle":0}},"y":{"field":"f","type":"quantitative","scale":{"domain":[0.62,4.27],"nice":false,"zero":false},"axis":{"values":[2,4],"grid":true,"gridColor":"#fff","gridWidth":1.2,"ticks":false,"labels":false,"title":null}}}},
{"data":{"name":"lsd"},"width":236,"height":45,"view":{"fill":"#dfdfe7"},"mark":{"type":"line","color":"#2a7fba","strokeWidth":1.5},"encoding":{"x":{"field":"t","type":"quantitative","scale":{"domain":[-1.19,25.1],"nice":false,"zero":false},"axis":{"values":[0,5,10,15,20,25],"grid":true,"gridColor":"#fff","gridWidth":1.2,"ticks":false,"title":null,"labelFontSize":10.5,"labelPadding":5,"labelAngle":0}},"y":{"field":"f","type":"quantitative","scale":{"domain":[0,6],"nice":false},"axis":{"orient":"right","values":[0,2,4,6],"grid":true,"gridColor":"#fff","gridWidth":1.2,"tickSize":3,"labelFontSize":8,"labelPadding":2,"title":"free energy","titleFontSize":10,"titleAngle":270,"titleX":21,"titleY":22}}}},
{"width":237,"height":249,"layer":[{"data":{"name":"bgq"},"mark":{"type":"rect","strokeWidth":1},"encoding":{"x":{"datum":0,"type":"quantitative","scale":{"domain":[0,27],"nice":false,"zero":false},"axis":null},"x2":{"datum":27}}},{"data":{"name":"hqc"},"mark":{"type":"rect","strokeWidth":1},"encoding":{"x":{"field":"s","type":"quantitative","axis":null},"x2":{"field":"e"}}}],"encoding":{"y":{"field":"h","type":"ordinal","scale":{"type":"band","padding":0,"range":[19,249],"domain":[0,1,2,3,4,5,6,7,8,9,10,11,12,13,14,15,16,17,18,19,20,21,22,23,24,25,26,27,28,29,30,31,32,33,34,35,36,37,38,39,40,41,42,43,44,45,46,47,48,49,50,51,52,53,54]},"axis":{"labels":false,"ticks":false,"title":"Sequence","titleFontSize":18,"titleColor":"#262626","titlePadding":9,"titleY":134}},"color":{"field":"v","type":"quantitative","legend":null,"scale":{"domain":[0,0.03,0.05,0.07,0.1,0.13,0.16,0.2,0.3,0.4,0.5,0.6,0.7,0.8,0.9,1],"range":["#040d06","#061209","#07160c","#0c2012","#10291a","#12311c","#173a22","#1d452a","#2c5f39","#3a744a","#4f8a5b","#6aa878","#86bf90","#a5d3ad","#c8e5cd","#dbeee0"]}},"stroke":{"field":"v","type":"quantitative","legend":null,"scale":{"domain":[0,0.03,0.05,0.07,0.1,0.13,0.16,0.2,0.3,0.4,0.5,0.6,0.7,0.8,0.9,1],"range":["#040d06","#061209","#07160c","#0c2012","#10291a","#12311c","#173a22","#1d452a","#2c5f39","#3a744a","#4f8a5b","#6aa878","#86bf90","#a5d3ad","#c8e5cd","#dbeee0"]}}}},
{"width":238,"height":249,"layer":[{"data":{"name":"bgq"},"mark":{"type":"rect","strokeWidth":1},"encoding":{"x":{"datum":0,"type":"quantitative","scale":{"domain":[0,25],"nice":false,"zero":false},"axis":null},"x2":{"datum":25}}},{"data":{"name":"hqd"},"mark":{"type":"rect","strokeWidth":1},"encoding":{"x":{"field":"s","type":"quantitative","axis":null},"x2":{"field":"e"}}}],"encoding":{"y":{"field":"h","type":"ordinal","scale":{"type":"band","padding":0,"range":[19,249],"domain":[0,1,2,3,4,5,6,7,8,9,10,11,12,13,14,15,16,17,18,19,20,21,22,23,24,25,26,27,28,29,30,31,32,33,34,35,36,37,38,39,40,41,42,43,44,45,46,47,48,49,50,51,52,53,54]},"axis":{"orient":"right","values":[0,2,4,6,8,10,12,14,16,18,20,22,24,26,28,30,32,34,36,38,40,42,44,46,48,50,52,54],"labelExpr":"datum.value>=54?'':datum.value+1","title":"hypotheses","titleFontSize":12,"titleAngle":270,"titleX":30,"titleY":134,"labelAngle":-30,"labelAlign":"left","labelBaseline":"middle","labelOffset":5,"labelFontSize":10,"tickSize":3,"labelPadding":2,"labelOverlap":false}},"color":{"field":"v","type":"quantitative","legend":null,"scale":{"domain":[0,0.03,0.05,0.07,0.1,0.13,0.16,0.2,0.3,0.4,0.5,0.6,0.7,0.8,0.9,1],"range":["#040d06","#061209","#07160c","#0c2012","#10291a","#12311c","#173a22","#1d452a","#2c5f39","#3a744a","#4f8a5b","#6aa878","#86bf90","#a5d3ad","#c8e5cd","#dbeee0"]}},"stroke":{"field":"v","type":"quantitative","legend":null,"scale":{"domain":[0,0.03,0.05,0.07,0.1,0.13,0.16,0.2,0.3,0.4,0.5,0.6,0.7,0.8,0.9,1],"range":["#040d06","#061209","#07160c","#0c2012","#10291a","#12311c","#173a22","#1d452a","#2c5f39","#3a744a","#4f8a5b","#6aa878","#86bf90","#a5d3ad","#c8e5cd","#dbeee0"]}}}},
{"data":{"name":"lqc"},"width":237,"height":45,"view":{"fill":"#dfdfe7"},"mark":{"type":"line","color":"#2a7fba","strokeWidth":1.5},"encoding":{"x":{"field":"t","type":"quantitative","scale":{"domain":[-1.24,27.3],"nice":false,"zero":false},"axis":{"values":[0,5,10,15,20,25],"grid":true,"gridColor":"#fff","gridWidth":1.2,"ticks":false,"title":null,"labelFontSize":10.5,"labelPadding":5,"labelAngle":0}},"y":{"field":"f","type":"quantitative","scale":{"domain":[-0.22,5.8],"nice":false,"zero":false},"axis":{"values":[0,4],"grid":true,"gridColor":"#fff","gridWidth":1.2,"ticks":false,"labels":false,"title":null}}}},
{"data":{"name":"lqd"},"width":236,"height":45,"view":{"fill":"#dfdfe7"},"mark":{"type":"line","color":"#2a7fba","strokeWidth":1.5},"encoding":{"x":{"field":"t","type":"quantitative","scale":{"domain":[-1.19,25.1],"nice":false,"zero":false},"axis":{"values":[0,5,10,15,20,25],"grid":true,"gridColor":"#fff","gridWidth":1.2,"ticks":false,"title":null,"labelFontSize":10.5,"labelPadding":5,"labelAngle":0}},"y":{"field":"f","type":"quantitative","scale":{"domain":[0,6],"nice":false},"axis":{"orient":"right","values":[0,2,4,6],"grid":true,"gridColor":"#fff","gridWidth":1.2,"tickSize":3,"labelFontSize":8,"labelPadding":2,"title":"free energy","titleFontSize":10,"titleAngle":270,"titleX":21,"titleY":22}}}},
{"width":237,"height":249,"layer":[{"data":{"name":"bgv"},"mark":{"type":"rect","strokeWidth":1},"encoding":{"x":{"datum":0,"type":"quantitative","scale":{"domain":[0,27],"nice":false,"zero":false},"axis":null},"x2":{"datum":27}}},{"data":{"name":"hvc"},"mark":{"type":"rect","strokeWidth":1},"encoding":{"x":{"field":"s","type":"quantitative","axis":null},"x2":{"field":"e"}}}],"encoding":{"y":{"field":"h","type":"ordinal","scale":{"type":"band","padding":0,"range":[19,249],"domain":["-3.14","-2.83","-2.51","-2.2","-1.88","-1.57","-1.26","-0.94","-0.63","-0.31","0.0","0.31","0.63","0.94","1.26","1.57","1.88","2.2","2.51","2.83"]},"axis":{"labels":false,"ticks":false,"title":"Vision","titleFontSize":18,"titleColor":"#262626","titlePadding":9,"titleY":134}},"color":{"field":"v","type":"quantitative","legend":null,"scale":{"domain":[0,0.03,0.05,0.07,0.1,0.13,0.16,0.2,0.3,0.4,0.5,0.6,0.7,0.8,0.9,1],"range":["#040d06","#061209","#07160c","#0c2012","#10291a","#12311c","#173a22","#1d452a","#2c5f39","#3a744a","#4f8a5b","#6aa878","#86bf90","#a5d3ad","#c8e5cd","#dbeee0"]}},"stroke":{"field":"v","type":"quantitative","legend":null,"scale":{"domain":[0,0.03,0.05,0.07,0.1,0.13,0.16,0.2,0.3,0.4,0.5,0.6,0.7,0.8,0.9,1],"range":["#040d06","#061209","#07160c","#0c2012","#10291a","#12311c","#173a22","#1d452a","#2c5f39","#3a744a","#4f8a5b","#6aa878","#86bf90","#a5d3ad","#c8e5cd","#dbeee0"]}}}},
{"width":238,"height":249,"layer":[{"data":{"name":"bgv"},"mark":{"type":"rect","strokeWidth":1},"encoding":{"x":{"datum":0,"type":"quantitative","scale":{"domain":[0,25],"nice":false,"zero":false},"axis":null},"x2":{"datum":25}}},{"data":{"name":"hvd"},"mark":{"type":"rect","strokeWidth":1},"encoding":{"x":{"field":"s","type":"quantitative","axis":null},"x2":{"field":"e"}}}],"encoding":{"y":{"field":"h","type":"ordinal","scale":{"type":"band","padding":0,"range":[19,249],"domain":["-3.14","-2.83","-2.51","-2.2","-1.88","-1.57","-1.26","-0.94","-0.63","-0.31","0.0","0.31","0.63","0.94","1.26","1.57","1.88","2.2","2.51","2.83"]},"axis":{"orient":"right","title":"hypotheses","titleFontSize":12,"titleAngle":270,"titleX":40,"titleY":134,"labelAngle":-30,"labelAlign":"left","labelBaseline":"middle","labelOffset":7,"labelFontSize":10,"tickSize":3,"labelPadding":3,"labelOverlap":false}},"color":{"field":"v","type":"quantitative","legend":null,"scale":{"domain":[0,0.03,0.05,0.07,0.1,0.13,0.16,0.2,0.3,0.4,0.5,0.6,0.7,0.8,0.9,1],"range":["#040d06","#061209","#07160c","#0c2012","#10291a","#12311c","#173a22","#1d452a","#2c5f39","#3a744a","#4f8a5b","#6aa878","#86bf90","#a5d3ad","#c8e5cd","#dbeee0"]}},"stroke":{"field":"v","type":"quantitative","legend":null,"scale":{"domain":[0,0.03,0.05,0.07,0.1,0.13,0.16,0.2,0.3,0.4,0.5,0.6,0.7,0.8,0.9,1],"range":["#040d06","#061209","#07160c","#0c2012","#10291a","#12311c","#173a22","#1d452a","#2c5f39","#3a744a","#4f8a5b","#6aa878","#86bf90","#a5d3ad","#c8e5cd","#dbeee0"]}}}},
{"data":{"name":"lvc"},"width":237,"height":45,"view":{"fill":"#dfdfe7"},"mark":{"type":"line","color":"#2a7fba","strokeWidth":1.5},"encoding":{"x":{"field":"t","type":"quantitative","scale":{"domain":[-1.24,27.3],"nice":false,"zero":false},"axis":{"values":[0,5,10,15,20,25],"grid":true,"gridColor":"#fff","gridWidth":1.2,"ticks":false,"title":null,"labelFontSize":10.5,"labelPadding":5,"labelAngle":0}},"y":{"field":"f","type":"quantitative","scale":{"domain":[0.8,6.46],"nice":false,"zero":false},"axis":{"values":[2,4,6],"grid":true,"gridColor":"#fff","gridWidth":1.2,"ticks":false,"labels":false,"title":null}}}},
{"data":{"name":"lvd"},"width":236,"height":45,"view":{"fill":"#dfdfe7"},"mark":{"type":"line","color":"#2a7fba","strokeWidth":1.5},"encoding":{"x":{"field":"t","type":"quantitative","scale":{"domain":[-1.19,25.1],"nice":false,"zero":false},"axis":{"values":[0,5,10,15,20,25],"grid":true,"gridColor":"#fff","gridWidth":1.2,"ticks":false,"title":null,"labelFontSize":10.5,"labelPadding":5,"labelAngle":0}},"y":{"field":"f","type":"quantitative","scale":{"domain":[0,6],"nice":false},"axis":{"orient":"right","values":[0,2,4,6],"grid":true,"gridColor":"#fff","gridWidth":1.2,"tickSize":3,"labelFontSize":8,"labelPadding":2,"title":"free energy","titleFontSize":10,"titleAngle":270,"titleX":21,"titleY":22}}}},
{"width":237,"height":249,"layer":[{"data":{"name":"bgv"},"mark":{"type":"rect","strokeWidth":1},"encoding":{"x":{"datum":0,"type":"quantitative","scale":{"domain":[0,27],"nice":false,"zero":false},"axis":null},"x2":{"datum":27}}},{"data":{"name":"hmc"},"mark":{"type":"rect","strokeWidth":1},"encoding":{"x":{"field":"s","type":"quantitative","axis":null},"x2":{"field":"e"}}}],"encoding":{"y":{"field":"h","type":"ordinal","scale":{"type":"band","padding":0,"range":[19,249],"domain":["-3.14","-2.83","-2.51","-2.2","-1.88","-1.57","-1.26","-0.94","-0.63","-0.31","0.0","0.31","0.63","0.94","1.26","1.57","1.88","2.2","2.51","2.83"]},"axis":{"labels":false,"ticks":false,"title":"Motor control","titleFontSize":18,"titleColor":"#262626","titlePadding":9,"titleY":134}},"color":{"field":"v","type":"quantitative","legend":null,"scale":{"domain":[0,0.03,0.05,0.07,0.1,0.13,0.16,0.2,0.3,0.4,0.5,0.6,0.7,0.8,0.9,1],"range":["#040d06","#061209","#07160c","#0c2012","#10291a","#12311c","#173a22","#1d452a","#2c5f39","#3a744a","#4f8a5b","#6aa878","#86bf90","#a5d3ad","#c8e5cd","#dbeee0"]}},"stroke":{"field":"v","type":"quantitative","legend":null,"scale":{"domain":[0,0.03,0.05,0.07,0.1,0.13,0.16,0.2,0.3,0.4,0.5,0.6,0.7,0.8,0.9,1],"range":["#040d06","#061209","#07160c","#0c2012","#10291a","#12311c","#173a22","#1d452a","#2c5f39","#3a744a","#4f8a5b","#6aa878","#86bf90","#a5d3ad","#c8e5cd","#dbeee0"]}}}},
{"width":238,"height":249,"layer":[{"data":{"name":"bgv"},"mark":{"type":"rect","strokeWidth":1},"encoding":{"x":{"datum":0,"type":"quantitative","scale":{"domain":[0,25],"nice":false,"zero":false},"axis":null},"x2":{"datum":25}}},{"data":{"name":"hmd"},"mark":{"type":"rect","strokeWidth":1},"encoding":{"x":{"field":"s","type":"quantitative","axis":null},"x2":{"field":"e"}}}],"encoding":{"y":{"field":"h","type":"ordinal","scale":{"type":"band","padding":0,"range":[19,249],"domain":["-3.14","-2.83","-2.51","-2.2","-1.88","-1.57","-1.26","-0.94","-0.63","-0.31","0.0","0.31","0.63","0.94","1.26","1.57","1.88","2.2","2.51","2.83"]},"axis":{"orient":"right","title":"hypotheses","titleFontSize":12,"titleAngle":270,"titleX":40,"titleY":134,"labelAngle":-30,"labelAlign":"left","labelBaseline":"middle","labelOffset":7,"labelFontSize":10,"tickSize":3,"labelPadding":3,"labelOverlap":false}},"color":{"field":"v","type":"quantitative","legend":null,"scale":{"domain":[0,0.03,0.05,0.07,0.1,0.13,0.16,0.2,0.3,0.4,0.5,0.6,0.7,0.8,0.9,1],"range":["#040d06","#061209","#07160c","#0c2012","#10291a","#12311c","#173a22","#1d452a","#2c5f39","#3a744a","#4f8a5b","#6aa878","#86bf90","#a5d3ad","#c8e5cd","#dbeee0"]}},"stroke":{"field":"v","type":"quantitative","legend":null,"scale":{"domain":[0,0.03,0.05,0.07,0.1,0.13,0.16,0.2,0.3,0.4,0.5,0.6,0.7,0.8,0.9,1],"range":["#040d06","#061209","#07160c","#0c2012","#10291a","#12311c","#173a22","#1d452a","#2c5f39","#3a744a","#4f8a5b","#6aa878","#86bf90","#a5d3ad","#c8e5cd","#dbeee0"]}}}},
{"data":{"name":"lmc"},"width":237,"height":45,"view":{"fill":"#dfdfe7"},"mark":{"type":"line","color":"#2a7fba","strokeWidth":1.5},"encoding":{"x":{"field":"t","type":"quantitative","scale":{"domain":[-1.24,27.3],"nice":false,"zero":false},"axis":{"values":[0,5,10,15,20,25],"grid":true,"gridColor":"#fff","gridWidth":1.2,"ticks":false,"title":"steps","titleFontSize":11.5,"titlePadding":1,"labelFontSize":10.5,"labelPadding":5,"labelAngle":0}},"y":{"field":"f","type":"quantitative","scale":{"domain":[0.86,6.24],"nice":false,"zero":false},"axis":{"values":[2,4],"grid":true,"gridColor":"#fff","gridWidth":1.2,"ticks":false,"labels":false,"title":null}}}},
{"data":{"name":"lmd"},"width":236,"height":45,"view":{"fill":"#dfdfe7"},"mark":{"type":"line","color":"#2a7fba","strokeWidth":1.5},"encoding":{"x":{"field":"t","type":"quantitative","scale":{"domain":[-1.19,25.1],"nice":false,"zero":false},"axis":{"values":[0,5,10,15,20,25],"grid":true,"gridColor":"#fff","gridWidth":1.2,"ticks":false,"title":"steps","titleFontSize":11.5,"titlePadding":1,"labelFontSize":10.5,"labelPadding":5,"labelAngle":0}},"y":{"field":"f","type":"quantitative","scale":{"domain":[0,6],"nice":false},"axis":{"orient":"right","values":[0,2,4,6],"grid":true,"gridColor":"#fff","gridWidth":1.2,"tickSize":3,"labelFontSize":8,"labelPadding":2,"title":"free energy","titleFontSize":10,"titleAngle":270,"titleX":21,"titleY":22}}}}
]}
